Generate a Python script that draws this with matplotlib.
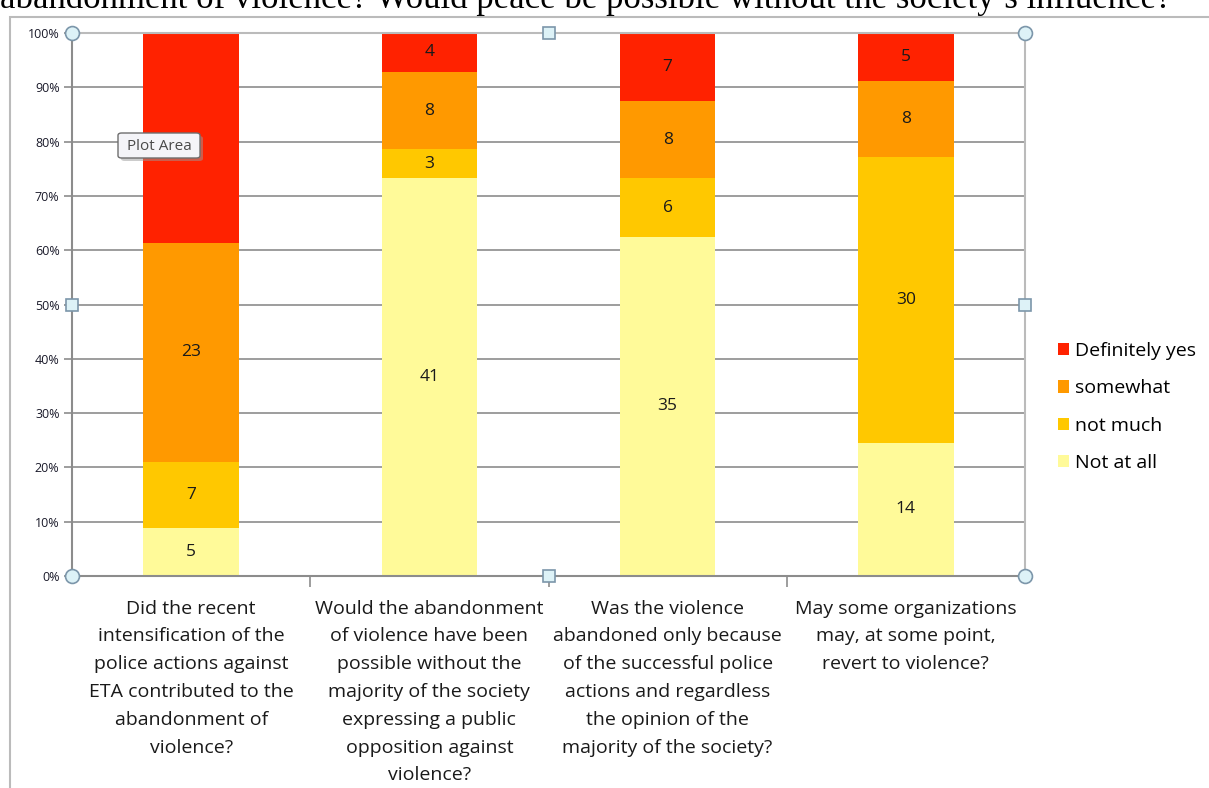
import numpy as np
import matplotlib
matplotlib.use("Agg")
import matplotlib.pyplot as plt
from matplotlib.patches import FancyBboxPatch, Rectangle

# raw counts per question (bottom -> top)
questions = [
    "Did the recent\nintensification of the\npolice actions against\nETA contributed to the\nabandonment of\nviolence?",
    "Would the abandonment\nof violence have been\npossible without the\nmajority of the society\nexpressing a public\nopposition against\nviolence?",
    "Was the violence\nabandoned only because\nof the successful police\nactions and regardless\nthe opinion of the\nmajority of the society?",
    "May some organizations\nmay, at some point,\nrevert to violence?",
]
series = ["Not at all", "not much", "somewhat", "Definitely yes"]
not_at_all = [5, 41, 35, 14]
not_much = [7, 3, 6, 30]
somewhat = [23, 8, 8, 8]
definitely = [22, 4, 7, 5]
show_label = [[True] * 4, [True] * 4, [True] * 4, [False, True, True, True]]
colors = ["#FFFA99", "#FFC800", "#FF9900", "#FF2200"]

plt.rcParams["font.family"] = ["Open Sans", "DejaVu Sans"]

fig = plt.figure(figsize=(12.09, 7.88), dpi=100)
W, H = 1209, 788

# clipped caption from the page above the chart
fig.text(0.0, 1 + 1 / H, "abandonment of violence? Would peace be possible without the society\u2019s influence?",
         family="Liberation Serif", fontsize=25, va="center", ha="left")

# chart frame
fig.add_artist(Rectangle((10 / W, -0.01), 1.05, 1 - 17 / H + 0.01, transform=fig.transFigure,
                         fill=False, ec="#BBBBBB", lw=1.5))

ax = fig.add_axes([72 / W, 1 - 576 / H, (1025 - 72) / W, (576 - 33) / H])
data = np.array([not_at_all, not_much, somewhat, definitely], dtype=float)
pct = data / data.sum(axis=0) * 100
x = np.arange(len(questions))
bottom = np.zeros(len(questions))
handles = []
for i, name in enumerate(series):
    b = ax.bar(x, pct[i], 0.4, bottom=bottom, color=colors[i], label=name, zorder=2)
    handles.append(b)
    for j in range(len(questions)):
        if show_label[i][j]:
            ax.text(x[j], bottom[j] + pct[i][j] / 2, f"{int(data[i][j])}", ha="center", va="center",
                    fontsize=12.5, color="#1A1A1A", zorder=3)
    bottom += pct[i]

ax.set_xlim(-0.5, 3.5)
ax.set_ylim(0, 100)
ax.set_yticks(np.arange(0, 101, 10))
ax.set_yticklabels([f"{v}%" for v in range(0, 101, 10)], fontsize=9, color="#1A1A2A")
ax.yaxis.grid(True, color="#8C8C8C", lw=1.2, zorder=0)
ax.set_axisbelow(True)
ax.set_xticks(x)
ax.set_xticklabels(questions, fontsize=14, linespacing=1.7, va="top", color="#1A1A1A")
ax.tick_params(axis="x", which="major", length=0, pad=17)
ax.set_xticks([0.5, 1.5, 2.5], minor=True)
ax.tick_params(axis="x", which="minor", length=8, color="#8C8C8C", width=1.2)
ax.tick_params(axis="y", length=6, color="#8C8C8C", width=1.2, pad=3)
for s in ["top", "right"]:
    ax.spines[s].set_color("#BBBBBB")
    ax.spines[s].set_linewidth(1.5)
for s in ["left", "bottom"]:
    ax.spines[s].set_color("#8C8C8C")
    ax.spines[s].set_linewidth(1.5)

# selection handles on plot area
for (hx, hy) in [(0, 0), (1, 0), (0, 1), (1, 1)]:
    ax.plot(hx, hy, "o", ms=10, mfc="#DDF2F7", mec="#7C96AA", mew=1.2,
            transform=ax.transAxes, clip_on=False, zorder=5)
for (hx, hy) in [(0.5, 0), (0.5, 1), (0, 0.5), (1, 0.5)]:
    ax.plot(hx, hy, "s", ms=8, mfc="#DDF2F7", mec="#7C96AA", mew=1.2,
            transform=ax.transAxes, clip_on=False, zorder=5)

# "Plot Area" tooltip
fig.add_artist(FancyBboxPatch((121 / W, 1 - 161 / H), 82 / W, 25 / H, transform=fig.transFigure,
                              boxstyle="round,pad=0,rounding_size=0.003", fc="#9A9A9A", ec="none",
                              alpha=0.5, zorder=9))
fig.add_artist(FancyBboxPatch((118 / W, 1 - 158 / H), 82 / W, 25 / H, transform=fig.transFigure,
                              boxstyle="round,pad=0,rounding_size=0.003", fc="#F4F4F8", ec="#6E6E6E",
                              lw=1, zorder=10))
fig.text(159 / W, 1 - 146 / H, "Plot Area", ha="center", va="center", fontsize=11,
         color="#4A4A4A", zorder=11)

fig.legend(handles[::-1], series[::-1], loc="center left", bbox_to_anchor=(1040 / W, 1 - 407 / H),
           frameon=False, fontsize=14, handlelength=0.6, handleheight=0.6, handletextpad=0.3,
           labelspacing=1.0)

fig.savefig("out.png", dpi=100)
